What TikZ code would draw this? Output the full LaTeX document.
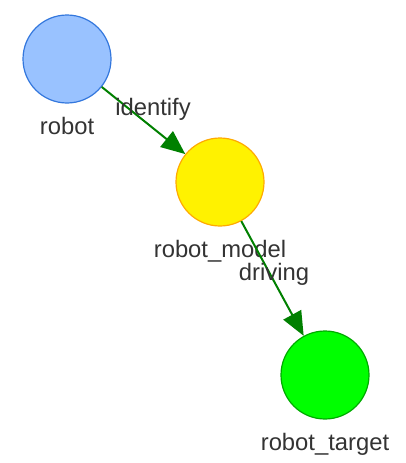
\documentclass[tikz,border=0pt]{standalone}
\usepackage{fontspec}
\setmainfont{Liberation Sans}
\usetikzlibrary{arrows.meta, positioning}

\definecolor{robotfill}{HTML}{99C2FF}
\definecolor{robotline}{HTML}{3377DD}
\definecolor{modelline}{HTML}{FFAA00}
\definecolor{targetline}{HTML}{00AA00}
\definecolor{edgegreen}{HTML}{008000}
\definecolor{txtgray}{HTML}{333333}

\begin{document}
\begin{tikzpicture}[
        x=1pt, y=1pt,
        font=\fontsize{23.8}{28}\selectfont,
        state/.style = {
            circle,
            draw,
            line width=1.2pt,
            minimum size=88pt,
            inner sep=0pt,
        },
        caption/.style = {
            text=txtgray,
            inner sep=0pt
        },
        below caption/.style = {
            caption,
            yshift=-13pt
        },
        link/.style = {
            draw=edgegreen,
            line width=2pt,
            -{Triangle[length=24pt,width=20pt]}
        }
    ]

    \useasboundingbox (0,0) rectangle (405,-463);

    \node[state, fill=robotfill, draw=robotline,
          label={[below caption]below:robot}] (robot) at (67,-59) {};
    \node[state, fill=yellow, draw=modelline,
          label={[below caption]below:robot\_model}] (model) at (220,-182) {};
    \node[state, fill=green, draw=targetline,
          label={[below caption]below:robot\_target}] (target) at (325,-375) {};

    \draw[link] (robot) -- (model);
    \draw[link] (model) -- (target);

    \node[caption] (lident) at (153,-109) {identify};
    \node[caption] (ldrive) at (274,-274) {driving};

\end{tikzpicture}
\end{document}
